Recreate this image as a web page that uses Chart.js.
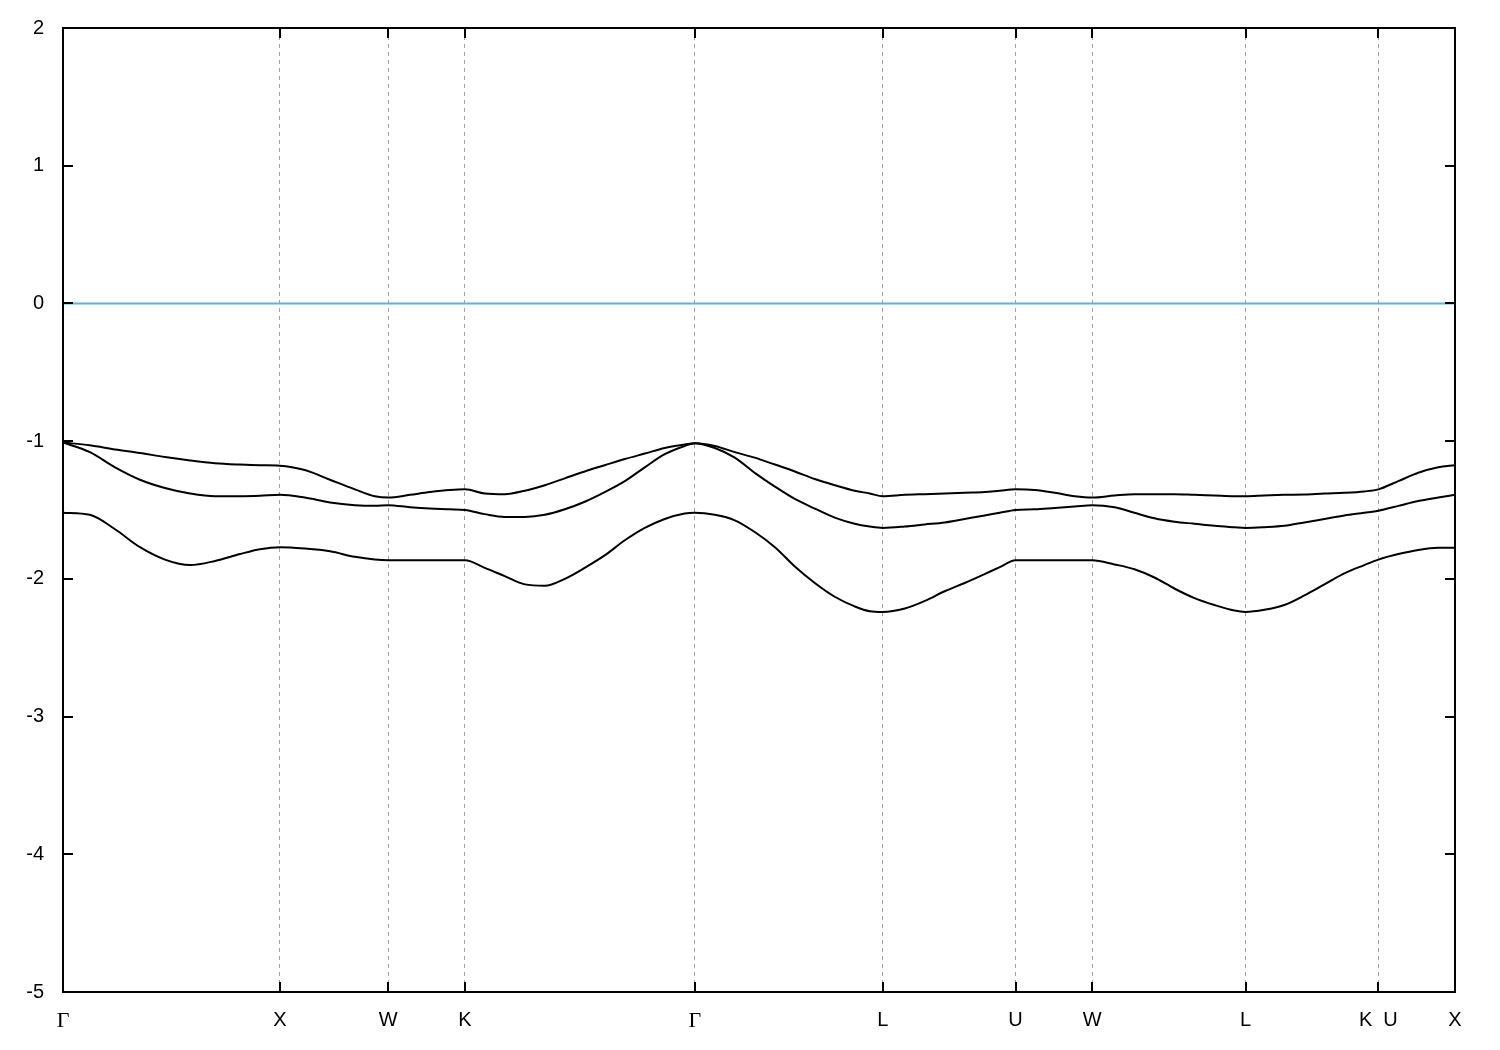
<!DOCTYPE html>
<html>
<head>
<meta charset="utf-8">
<script src="https://cdn.jsdelivr.net/npm/chart.js@4.4.1/dist/chart.umd.min.js"></script>
<style>
  html, body { margin: 0; padding: 0; background: #ffffff; }
  #wrap { width: 1500px; height: 1050px; position: relative; }
</style>
</head>
<body>
<div id="wrap"><canvas id="c" width="1500" height="1050"></canvas></div>
<script>
// High-symmetry points along the k-path (path length units)
const symPos = [0, 1.0, 1.5, 1.8536, 2.9142, 3.7802, 4.3926, 4.7462, 5.4533, 6.0657, 6.4193];
const symLabels = ['\u0393', 'X', 'W', 'K', '\u0393', 'L', 'U', 'W', 'L', 'K  U', 'X'];

// k-path sample positions (path length units)
const kPath = [
  0.000, 0.124, 0.240, 0.355, 0.470, 0.586, 0.701, 0.816, 0.908, 1.000,
  1.115, 1.231, 1.346, 1.438, 1.500, 1.600, 1.692, 1.784, 1.854, 1.945,
  2.037, 2.130, 2.222, 2.314, 2.406, 2.498, 2.591, 2.683, 2.775, 2.867,
  2.914, 3.006, 3.098, 3.190, 3.283, 3.375, 3.467, 3.559, 3.651, 3.720,
  3.780, 3.882, 3.974, 4.066, 4.158, 4.250, 4.320, 4.393, 4.481, 4.573,
  4.665, 4.746, 4.849, 4.941, 5.033, 5.125, 5.218, 5.310, 5.402, 5.453,
  5.540, 5.632, 5.725, 5.817, 5.909, 6.001, 6.066, 6.158, 6.250, 6.342,
  6.419
];

const bandTop = [
  -1.01, -1.03, -1.06, -1.086, -1.115, -1.14, -1.16, -1.17, -1.175, -1.178,
  -1.21, -1.28, -1.35, -1.40, -1.41, -1.39, -1.37, -1.355, -1.35, -1.38,
  -1.385, -1.36, -1.32, -1.27, -1.22, -1.175, -1.13, -1.09, -1.05, -1.025,
  -1.015, -1.035, -1.08, -1.12, -1.17, -1.22, -1.275, -1.32, -1.36, -1.38,
  -1.40, -1.39, -1.385, -1.38, -1.375, -1.37, -1.36, -1.35, -1.355, -1.375,
  -1.40, -1.41, -1.395, -1.385, -1.385, -1.385, -1.39, -1.395, -1.40, -1.40,
  -1.395, -1.39, -1.387, -1.38, -1.375, -1.365, -1.35, -1.29, -1.23, -1.19,
  -1.175
];

const bandMid = [
  -1.01, -1.08, -1.19, -1.28, -1.34, -1.38, -1.40, -1.40, -1.397, -1.39,
  -1.41, -1.445, -1.465, -1.47, -1.465, -1.48, -1.49, -1.495, -1.50, -1.53,
  -1.55, -1.55, -1.535, -1.495, -1.44, -1.37, -1.29, -1.19, -1.095, -1.035,
  -1.015, -1.05, -1.12, -1.23, -1.33, -1.42, -1.49, -1.555, -1.60, -1.62,
  -1.63, -1.62, -1.605, -1.59, -1.565, -1.54, -1.52, -1.50, -1.495, -1.485,
  -1.475, -1.465, -1.48, -1.52, -1.56, -1.585, -1.60, -1.615, -1.625, -1.63,
  -1.625, -1.615, -1.59, -1.565, -1.54, -1.52, -1.505, -1.47, -1.435, -1.41,
  -1.39
];

const bandLow = [
  -1.52, -1.535, -1.64, -1.77, -1.86, -1.90, -1.87, -1.82, -1.785, -1.77,
  -1.78, -1.80, -1.84, -1.86, -1.865, -1.865, -1.865, -1.865, -1.865, -1.92,
  -1.98, -2.04, -2.05, -2.00, -1.92, -1.83, -1.72, -1.63, -1.565, -1.525,
  -1.52, -1.535, -1.575, -1.66, -1.77, -1.91, -2.03, -2.13, -2.20, -2.235,
  -2.24, -2.215, -2.16, -2.09, -2.03, -1.965, -1.915, -1.865, -1.865, -1.865,
  -1.865, -1.865, -1.895, -1.93, -1.99, -2.07, -2.14, -2.19, -2.23, -2.24,
  -2.225, -2.19, -2.12, -2.04, -1.96, -1.90, -1.86, -1.82, -1.79, -1.775,
  -1.775
];

const fermiLevel = 0;
const yTicks = [-5, -4, -3, -2, -1, 0, 1, 2];

function toPoints(xs, ys) { return xs.map((x, i) => ({ x: x, y: ys[i] })); }

const bandStyle = {
  borderColor: '#000000', borderWidth: 2, pointRadius: 0, fill: false,
  cubicInterpolationMode: 'monotone'
};

const frameTicks = {
  id: 'frameTicks',
  afterDraw(chart) {
    const ctx = chart.ctx;
    const a = chart.chartArea;
    const xs = chart.scales.x, ys = chart.scales.y;
    const len = 10;
    ctx.save();
    ctx.strokeStyle = '#000000';
    ctx.lineWidth = 2;
    ctx.beginPath();
    symPos.forEach((v, i) => {
      if (i === 0 || i === symPos.length - 1) return;
      const px = Math.round(xs.getPixelForValue(v));
      ctx.moveTo(px, a.bottom); ctx.lineTo(px, a.bottom - len);
      ctx.moveTo(px, a.top); ctx.lineTo(px, a.top + len);
    });
    yTicks.forEach((v, i) => {
      if (i === 0 || i === yTicks.length - 1) return;
      const py = Math.round(ys.getPixelForValue(v));
      ctx.moveTo(a.left, py); ctx.lineTo(a.left + len, py);
      ctx.moveTo(a.right, py); ctx.lineTo(a.right - len, py);
    });
    ctx.stroke();
    ctx.strokeRect(a.left, a.top, a.right - a.left, a.bottom - a.top);
    ctx.restore();
  }
};

new Chart(document.getElementById('c'), {
  type: 'line',
  data: {
    datasets: [
      Object.assign({ label: 'band 1', data: toPoints(kPath, bandTop) }, bandStyle),
      Object.assign({ label: 'band 2', data: toPoints(kPath, bandMid) }, bandStyle),
      Object.assign({ label: 'band 3', data: toPoints(kPath, bandLow) }, bandStyle),
      {
        label: 'Fermi level',
        data: [{ x: symPos[0], y: fermiLevel }, { x: symPos[symPos.length - 1], y: fermiLevel }],
        borderColor: '#56B4E9', borderWidth: 2, pointRadius: 0, fill: false, tension: 0
      }
    ]
  },
  options: {
    responsive: false,
    animation: false,
    devicePixelRatio: 1,
    layout: { padding: { left: 0, right: 45, top: 28, bottom: 0 } },
    plugins: { legend: { display: false }, tooltip: { enabled: false } },
    scales: {
      x: {
        type: 'linear',
        min: symPos[0],
        max: symPos[symPos.length - 1],
        afterBuildTicks(scale) { scale.ticks = symPos.map(v => ({ value: v })); },
        afterFit(scale) { scale.height = 58; },
        grid: {
          drawTicks: false,
          color(ctx) {
            const i = ctx.index;
            return (i === 0 || i === symPos.length - 1) ? 'rgba(0,0,0,0)' : '#a0a0a0';
          },
          lineWidth: 1
        },
        border: { display: false, dash: [4, 4] },
        ticks: {
          autoSkip: false,
          maxRotation: 0,
          padding: 16,
          color: '#000000',
          font(ctx) {
            const lbl = symLabels[ctx.index];
            if (lbl === '\u0393') return { family: 'Liberation Serif', size: 22 };
            return { family: 'Liberation Sans', size: 20 };
          },
          callback(value, index) { return symLabels[index]; }
        }
      },
      y: {
        type: 'linear',
        min: -5,
        max: 2,
        afterBuildTicks(scale) { scale.ticks = yTicks.map(v => ({ value: v })); },
        afterFit(scale) { scale.width = 63; scale.paddingTop = 0; scale.paddingBottom = 0; },
        border: { display: false },
        grid: { display: false, drawTicks: false },
        ticks: {
          padding: 19,
          color: '#000000',
          font: { family: 'Liberation Sans', size: 20 },
          callback(value) { return String(value); }
        }
      }
    }
  },
  plugins: [frameTicks]
});
</script>
</body>
</html>
